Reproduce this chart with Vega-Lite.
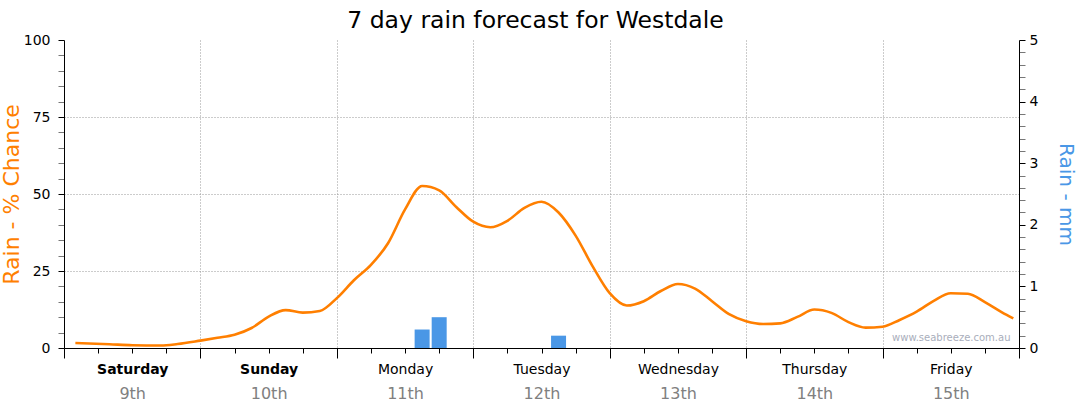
{
  "$schema": "https://vega.github.io/schema/vega-lite/v6.json",
  "width": 955,
  "height": 308,
  "autosize": {"type": "none"},
  "padding": {"left": 64, "top": 40, "right": 61, "bottom": 66},
  "background": "white",
  "title": {"text": "7 day rain forecast for Westdale", "font": "DejaVu Sans", "fontSize": 23.5, "fontWeight": "normal", "color": "black", "offset": 1, "dx": -6},
  "config": {"view": {"stroke": null}, "axis": {"labelFont": "DejaVu Sans", "titleFont": "DejaVu Sans", "labelFontSize": 14}},
  "datasets": {
    "chance": [
      {"hour": 2, "chance": 1.6}, {"hour": 8, "chance": 1.2}, {"hour": 12, "chance": 0.9}, {"hour": 17, "chance": 0.8},
      {"hour": 20, "chance": 1.3}, {"hour": 24, "chance": 2.4}, {"hour": 27, "chance": 3.3}, {"hour": 30, "chance": 4.3},
      {"hour": 33, "chance": 6.5}, {"hour": 36, "chance": 10.2}, {"hour": 39, "chance": 12.3}, {"hour": 42, "chance": 11.5},
      {"hour": 45, "chance": 12}, {"hour": 48, "chance": 16.2}, {"hour": 51, "chance": 22}, {"hour": 54, "chance": 27},
      {"hour": 57, "chance": 34}, {"hour": 60, "chance": 45}, {"hour": 63, "chance": 52.6}, {"hour": 66, "chance": 51.2},
      {"hour": 69, "chance": 45.8}, {"hour": 72, "chance": 41}, {"hour": 75, "chance": 39.2}, {"hour": 78, "chance": 41.3},
      {"hour": 81, "chance": 45.5}, {"hour": 84, "chance": 47.5}, {"hour": 87, "chance": 44}, {"hour": 90, "chance": 36.5},
      {"hour": 93, "chance": 26.5}, {"hour": 96, "chance": 17.8}, {"hour": 99, "chance": 13.8}, {"hour": 102, "chance": 15.2},
      {"hour": 105, "chance": 18.5}, {"hour": 108, "chance": 20.8}, {"hour": 111, "chance": 19.3}, {"hour": 114, "chance": 15.2},
      {"hour": 117, "chance": 11}, {"hour": 120, "chance": 8.7}, {"hour": 123, "chance": 7.8}, {"hour": 126, "chance": 8},
      {"hour": 129, "chance": 10.1}, {"hour": 132, "chance": 12.5}, {"hour": 135, "chance": 11.4}, {"hour": 138, "chance": 8.4},
      {"hour": 141, "chance": 6.6}, {"hour": 144, "chance": 6.9}, {"hour": 147, "chance": 9.1}, {"hour": 150, "chance": 11.8},
      {"hour": 153, "chance": 15.3}, {"hour": 156, "chance": 17.8}, {"hour": 159, "chance": 17.6}, {"hour": 162, "chance": 14.9},
      {"hour": 165, "chance": 11.6}, {"hour": 167, "chance": 9.6}
    ],
    "rain": [
      {"hour": 63, "mm": 0.3}, {"hour": 66, "mm": 0.5}, {"hour": 87, "mm": 0.2}
    ]
  },
  "layer": [
    {
      "data": {"name": "chance"},
      "mark": {"type": "line", "color": "#FF7F00", "strokeWidth": 2.6, "interpolate": "monotone"},
      "encoding": {
        "x": {
          "field": "hour", "type": "quantitative",
          "scale": {"domain": [0, 168], "nice": false, "zero": false, "padding": 0},
          "axis": {
            "orient": "bottom", "title": null, "labels": false,
            "values": [0, 6, 12, 18, 24, 30, 36, 42, 48, 54, 60, 66, 72, 78, 84, 90, 96, 102, 108, 114, 120, 126, 132, 138, 144, 150, 156, 162, 168],
            "domain": true, "domainColor": "black", "domainWidth": 1,
            "ticks": true, "tickColor": "black",
            "tickSize": {"condition": {"test": "datum.value % 24 === 0", "value": 10}, "value": 5},
            "grid": true, "gridColor": "#999999", "gridDash": [1, 2],
            "gridOpacity": {"condition": {"test": "datum.value % 24 === 0 && datum.value > 0 && datum.value < 168", "value": 1}, "value": 0}
          }
        },
        "y": {
          "field": "chance", "type": "quantitative",
          "scale": {"domain": [0, 100], "nice": false},
          "axis": {
            "orient": "left",
            "values": [0, 5, 10, 15, 20, 25, 30, 35, 40, 45, 50, 55, 60, 65, 70, 75, 80, 85, 90, 95, 100],
            "labelExpr": "datum.value % 25 === 0 ? datum.label : ''",
            "labelOverlap": false, "labelFontSize": 14, "labelColor": "black", "labelPadding": 8,
            "tickSize": 6,
            "tickColor": {"condition": {"test": "datum.value % 25 === 0", "value": "black"}, "value": "#777777"},
            "domainColor": "black",
            "grid": true, "gridColor": "#999999", "gridDash": [1, 2],
            "gridOpacity": {"condition": {"test": "datum.value % 25 === 0 && datum.value > 0 && datum.value < 100", "value": 1}, "value": 0},
            "title": "Rain - % Chance", "titleColor": "#FF7F00", "titleFontSize": 22, "titleFontWeight": "normal", "titlePadding": 0
          }
        }
      }
    },
    {
      "data": {"name": "rain"},
      "mark": {"type": "bar", "color": "#4A97E6", "size": 15},
      "encoding": {
        "x": {
          "field": "hour", "type": "quantitative",
          "scale": {"domain": [0, 168], "nice": false, "zero": false, "padding": 0},
          "axis": {
            "orient": "bottom", "title": null,
            "values": [12, 36, 60, 84, 108, 132, 156],
            "labelExpr": "['Saturday','Sunday','Monday','Tuesday','Wednesday','Thursday','Friday'][floor(datum.value / 24)]",
            "ticks": false, "domain": false, "grid": false, "labelFlush": false, "labelOverlap": false,
            "labelPadding": 14, "labelFontSize": 14, "labelColor": "black",
            "labelFontWeight": {"condition": {"test": "datum.value < 48", "value": "bold"}, "value": "normal"}
          }
        },
        "y": {
          "field": "mm", "type": "quantitative",
          "scale": {"domain": [0, 5], "nice": false},
          "axis": {
            "orient": "right",
            "values": [0, 0.2, 0.4, 0.6, 0.8, 1, 1.2, 1.4, 1.6, 1.8, 2, 2.2, 2.4, 2.6, 2.8, 3, 3.2, 3.4, 3.6, 3.8, 4, 4.2, 4.4, 4.6, 4.8, 5],
            "labelExpr": "abs(datum.value - round(datum.value)) < 0.001 ? '' + round(datum.value) : ''",
            "labelOverlap": false, "labelFontSize": 14, "labelColor": "black", "labelPadding": 4,
            "tickSize": 6,
            "tickColor": {"condition": {"test": "abs(datum.value - round(datum.value)) < 0.001", "value": "black"}, "value": "#777777"},
            "domainColor": "black", "grid": false,
            "title": "Rain - mm", "titleColor": "#4A97E6", "titleFontSize": 20, "titleFontWeight": "normal", "titlePadding": 18
          }
        }
      }
    },
    {
      "data": {"values": [{}]},
      "mark": {"type": "text", "text": "www.seabreeze.com.au", "align": "right", "baseline": "middle", "font": "DejaVu Sans", "fontSize": 10, "color": "#a9aebb"},
      "encoding": {
        "x": {
          "datum": 166.5, "type": "quantitative",
          "scale": {"domain": [0, 168], "nice": false, "zero": false, "padding": 0},
          "axis": {
            "orient": "bottom", "title": null,
            "values": [12, 36, 60, 84, 108, 132, 156],
            "labelExpr": "['9th','10th','11th','12th','13th','14th','15th'][floor(datum.value / 24)]",
            "ticks": false, "domain": false, "grid": false, "labelFlush": false, "labelOverlap": false,
            "labelPadding": 37, "labelFontSize": 16, "labelColor": "#808080"
          }
        },
        "y": {
          "datum": 3.2, "type": "quantitative",
          "scale": {"domain": [0, 100], "nice": false},
          "axis": null
        }
      }
    }
  ],
  "resolve": {"scale": {"y": "independent"}, "axis": {"x": "independent", "y": "independent"}}
}
